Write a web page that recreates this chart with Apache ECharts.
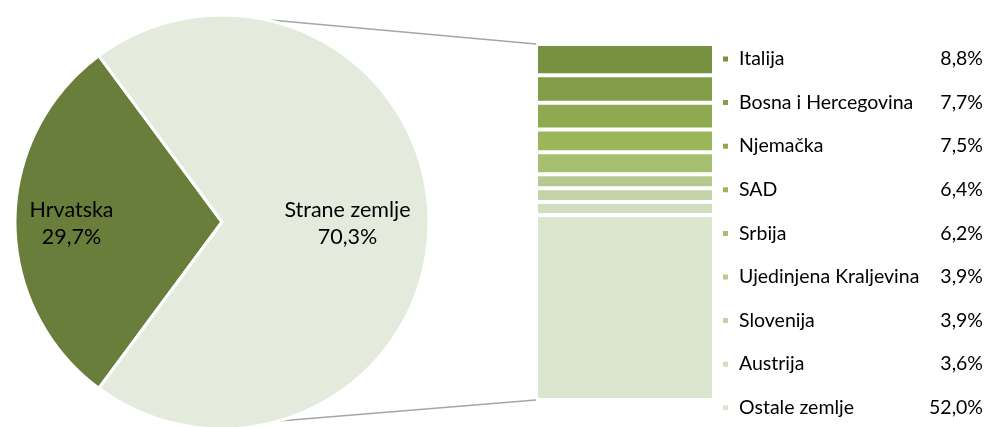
<!DOCTYPE html>
<html><head><meta charset="utf-8">
<script src="https://cdn.jsdelivr.net/npm/echarts@6/dist/echarts.min.js"></script>
<style>html,body{margin:0;padding:0;background:#fff}#c{width:992px;height:427px}</style>
</head><body><div id="c"></div>
<script>
var pieNames = ['Hrvatska', 'Strane zemlje'];
var pieValues = [29.7, 70.3];
var pieLabels = ['29,7%', '70,3%'];
var countries = ['Italija', 'Bosna i Hercegovina', 'Njemačka', 'SAD', 'Srbija', 'Ujedinjena Kraljevina', 'Slovenija', 'Austrija', 'Ostale zemlje'];
var countryValues = [8.8, 7.7, 7.5, 6.4, 6.2, 3.9, 3.9, 3.6, 52.0];
var countryLabels = ['8,8%', '7,7%', '7,5%', '6,4%', '6,2%', '3,9%', '3,9%', '3,6%', '52,0%'];

var pieColors = ['#6a7e3c', '#e4ebdd'];
var barColors = ['#76913f', '#829e48', '#8eaa50', '#99b65a', '#a5c06e', '#b6ca90', '#c3d3a6', '#d1ddbd', '#dce5cd'];
var FONT = 'Lato';
var PIE_C = [222, 222], PIE_R = 207;

var chart = echarts.init(document.getElementById('c'));
var hrvSpan = pieValues[0] / (pieValues[0] + pieValues[1]) * 360;

var series = [{
  type: 'pie',
  center: PIE_C,
  radius: PIE_R,
  startAngle: 180 + hrvSpan / 2,
  clockwise: true,
  silent: true,
  itemStyle: { borderColor: '#fff', borderWidth: 3 },
  label: {
    position: 'inside', fontFamily: FONT, fontSize: 21.5, color: '#000', lineHeight: 27,
    formatter: function (p) { return p.name + '\n' + pieLabels[p.dataIndex]; }
  },
  data: pieNames.map(function (n, i) {
    return { name: n, value: pieValues[i], itemStyle: { color: pieColors[i] },
      label: { offset: i === 0 ? [-44, 2] : [19, 2] } };
  })
}];
countries.forEach(function (c, i) {
  series.push({
    type: 'bar', name: c, stack: 'all', barWidth: '100%',
    xAxisIndex: 0, yAxisIndex: 0, silent: true,
    itemStyle: { color: barColors[i], borderColor: '#fff', borderWidth: 2 },
    data: [countryValues[i]]
  });
});

chart.setOption({
  animation: false,
  grid: { left: 536, top: 44, width: 178, height: 356 },
  xAxis: { type: 'category', data: [''], show: false },
  yAxis: { type: 'value', min: 0, max: 100, inverse: true, show: false },
  legend: {
    orient: 'vertical', left: 721, top: 49, padding: 0,
    itemWidth: 7, itemHeight: 7, itemGap: 23.6, icon: 'rect',
    data: countries,
    selectedMode: false,
    formatter: function (name) {
      var i = countries.indexOf(name);
      return '{a|' + name + '}{b|' + countryLabels[i] + '}';
    },
    textStyle: {
      fontFamily: FONT, fontSize: 19.5, color: '#000',
      rich: {
        a: { fontFamily: FONT, fontSize: 19.5, color: '#000', width: 196, padding: [0, 0, 0, 5] },
        b: { fontFamily: FONT, fontSize: 19.5, color: '#000', width: 48, align: 'right' }
      }
    }
  },
  series: series
});

// connector lines from pie edge to bar corners
var barTop = chart.convertToPixel({ xAxisIndex: 0, yAxisIndex: 0 }, ['', 0]);
var barBot = chart.convertToPixel({ xAxisIndex: 0, yAxisIndex: 0 }, ['', 100]);
var barLeft = 536;
function piePt(deg) {
  var a = deg * Math.PI / 180;
  return [PIE_C[0] + PIE_R * Math.cos(a), PIE_C[1] - PIE_R * Math.sin(a)];
}
var p1 = piePt(78), p2 = piePt(-74);
chart.setOption({
  graphic: [
    { type: 'line', shape: { x1: p1[0], y1: p1[1], x2: barLeft, y2: barTop[1] }, style: { stroke: '#a6a6a6', lineWidth: 1.5 }, z: 0 },
    { type: 'line', shape: { x1: p2[0], y1: p2[1], x2: barLeft, y2: barBot[1] }, style: { stroke: '#a6a6a6', lineWidth: 1.5 }, z: 0 }
  ]
});
</script></body></html>
